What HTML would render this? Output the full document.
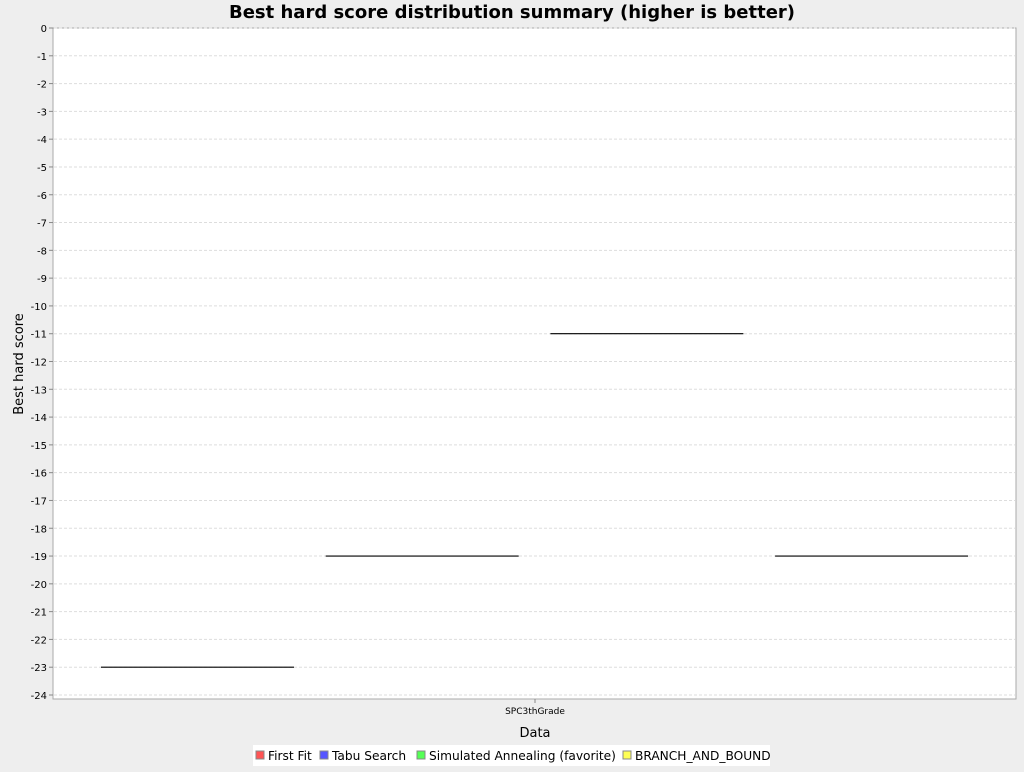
<!DOCTYPE html>
<html><head><meta charset="utf-8"><style>
body{margin:0;background:#eeeeee;font-family:"DejaVu Sans","Liberation Sans",sans-serif;}
svg text{font-family:"DejaVu Sans","Liberation Sans",sans-serif;}
</style></head><body>
<svg id="chart" width="1024" height="768">
<rect width="1024" height="768" fill="#eeeeee"/>
<text x="512" y="18" text-anchor="middle" font-size="18" font-weight="bold">Best hard score distribution summary (higher is better)</text>
<rect x="53" y="28" width="963" height="671" fill="#ffffff" stroke="#aaaaaa"/>
<g id="grid"></g><g id="ticks"></g><g id="marks"></g>
<text x="535" y="714" text-anchor="middle" font-size="9">SPC3thGrade</text>
<line x1="535" y1="699" x2="535" y2="703" stroke="#888"/>
<text x="535" y="737" text-anchor="middle" font-size="13">Data</text>
<text transform="translate(23,364) rotate(-90)" text-anchor="middle" font-size="13">Best hard score</text>
<g>
<rect x="253" y="745" width="517" height="21" fill="#ffffff"/>
<g><rect x="256" y="751" width="8" height="8" fill="#ff5555" stroke="#888"/><text x="268" y="760" font-size="12.2">First Fit</text></g>
<g><rect x="320" y="751" width="8" height="8" fill="#5555ff" stroke="#888"/><text x="332" y="760" font-size="12.2">Tabu Search</text></g>
<g><rect x="417" y="751" width="8" height="8" fill="#55ff55" stroke="#888"/><text x="429" y="760" font-size="12.2">Simulated Annealing (favorite)</text></g>
<g><rect x="623" y="751" width="8" height="8" fill="#ffff55" stroke="#888"/><text x="635" y="760" font-size="12.2">BRANCH_AND_BOUND</text></g>
</g>
</svg>
<script>
const series=["First Fit","Tabu Search","Simulated Annealing (favorite)","BRANCH_AND_BOUND"];
const medians=[-23,-19,-11,-19];
const yTicks=[0,-1,-2,-3,-4,-5,-6,-7,-8,-9,-10,-11,-12,-13,-14,-15,-16,-17,-18,-19,-20,-21,-22,-23,-24];
const NS="http://www.w3.org/2000/svg";
const y=v=>28+(0-v)*(667/24);
const x0=101,step=224.7,bw=193;
const grid=document.getElementById('grid'),ticks=document.getElementById('ticks'),marks=document.getElementById('marks');
yTicks.forEach(t=>{
 const g=document.createElementNS(NS,'line');
 g.setAttribute('x1',54);g.setAttribute('x2',1015);g.setAttribute('y1',y(t));g.setAttribute('y2',y(t));
 g.setAttribute('stroke','#dddddd');g.setAttribute('stroke-dasharray','3,2');
 
 
 grid.appendChild(g);
 const l=document.createElementNS(NS,'line');
 l.setAttribute('x1',49);l.setAttribute('x2',53);l.setAttribute('y1',y(t));l.setAttribute('y2',y(t));l.setAttribute('stroke','#888');
 ticks.appendChild(l);
 const tx=document.createElementNS(NS,'text');
 tx.setAttribute('x',47);tx.setAttribute('y',y(t)+4);tx.setAttribute('text-anchor','end');tx.setAttribute('font-size','10');
 tx.textContent=t;
 
 
 ticks.appendChild(tx);
});
medians.forEach((m,i)=>{
 const l=document.createElementNS(NS,'line');
 l.setAttribute('x1',x0+i*step);l.setAttribute('x2',x0+i*step+bw);
 l.setAttribute('y1',y(m));l.setAttribute('y2',y(m));l.setAttribute('stroke','#000');l.setAttribute('stroke-width','1.2');
 
 
 marks.appendChild(l);
});
</script>
</body></html>
